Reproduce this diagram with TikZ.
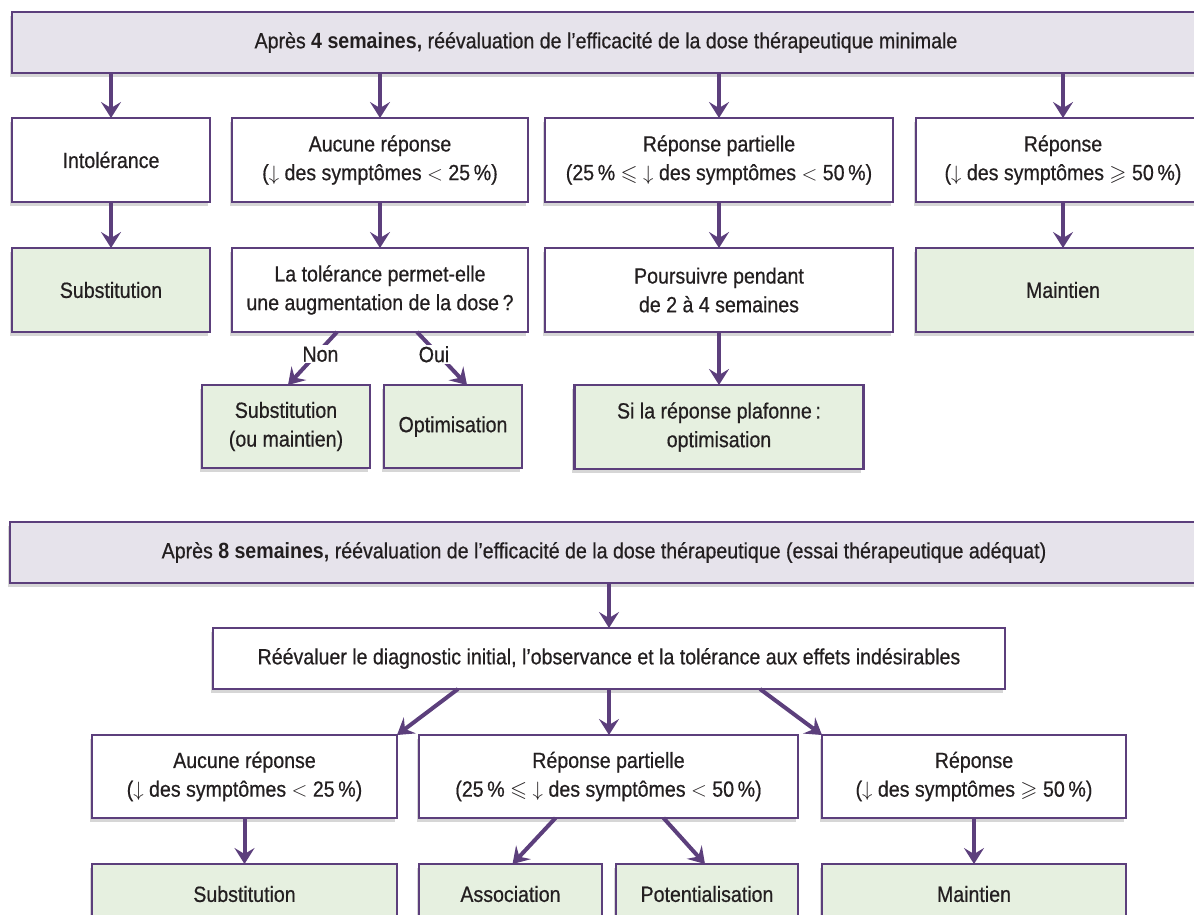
\documentclass[tikz,border=0pt]{standalone}
\usepackage{amsmath}
\usepackage{amssymb}
\usepackage{fontspec}
\setmainfont{Liberation Sans}[FakeStretch=0.89, UprightFeatures={FakeBold=0.6}]
\usepackage{tikz}
\usetikzlibrary{arrows.meta,positioning,calc,shadows}
\definecolor{algoPurple}{HTML}{5C3F7C}
\definecolor{algoHead}{HTML}{E6E3EB}
\definecolor{algoGreen}{HTML}{E6F0E0}
\definecolor{algoInk}{HTML}{231F20}
\newcommand{\algoFont}{\fontsize{22}{28.7}\selectfont}
\tikzset{
  %% algobox: every box of the chart, the fill level comes as argument
  algobox/.style={
    draw=algoPurple, line width=2.4pt, fill=#1, inner sep=0pt, outer sep=0pt,
    align=center, font=\algoFont, text=algoInk,
    drop shadow={shadow xshift=-2.5pt, shadow yshift=-4pt, opacity=0.16, fill=black}},
  algobox/.default=white,
  %% headers (the two reassessment dates)
  algohead/.style={algobox=algoHead, minimum width=1200pt, minimum height=61pt},
  %% decisions: what to do with the treatment
  algoact/.style={algobox=algoGreen},
  algoflow/.style={-{Stealth[length=16pt,width=20pt,inset=6pt]}, draw=algoPurple,
    line width=4pt},
  algolbl/.style={font=\algoFont, fill=white, inner sep=1.5pt, text=algoInk},
}

\begin{document}
\begin{tikzpicture}[x=1pt, y=1pt]
\useasboundingbox (0,0) rectangle (1194,-914);

%% ------------------------------------------------------------------
%% After 4 weeks
%% ------------------------------------------------------------------
\node[algohead, anchor=north west] (banFour) at (12,-12)
  {\hspace*{-6pt}Après \textbf{4 semaines,} réévaluation de l’efficacité de la dose thérapeutique minimale\hspace*{6pt}};

%% --- first answer row --------------------------------------------
\node[algobox, anchor=north west, minimum width=198pt, minimum height=84pt] (intol) at (12,-118)
  {Intolérance};
\node[algobox, right=22pt of intol, minimum width=296pt, minimum height=84pt] (noResp)
  {Aucune réponse\\($\downarrow$ des symptômes $<$ 25\,\%)};
\node[algobox, right=17pt of noResp, minimum width=348pt, minimum height=84pt] (partResp)
  {Réponse partielle\\(25\,\% $\leqslant$ $\downarrow$ des symptômes $<$ 50\,\%)};
\node[algobox, right=23pt of partResp, minimum width=294pt, minimum height=84pt] (resp)
  {Réponse\\($\downarrow$ des symptômes $\geqslant$ 50\,\%)};

%% --- second row ---------------------------------------------------
\node[algoact, below=46pt of intol, minimum width=198pt, minimum height=84pt] (subst)
  {Substitution};
\node[algobox, below=46pt of noResp, minimum width=296pt, minimum height=84pt] (tolQ)
  {La tolérance permet-elle\\une augmentation de la dose\,?};
\node[algobox, below=46pt of partResp, minimum width=348pt, minimum height=84pt] (pursue)
  {Poursuivre pendant\\de 2 à 4 semaines};
\node[algoact, below=46pt of resp, minimum width=294pt, minimum height=84pt] (keep)
  {Maintien};

%% --- third row ----------------------------------------------------
\node[algoact, anchor=north west, minimum width=168pt, minimum height=83pt] (substB) at (202,-385)
  {Substitution\\(ou maintien)};
\node[algoact, right=14pt of substB, minimum width=138pt, minimum height=83pt] (optim)
  {Optimisation};
\node[algoact, below=53pt of pursue, minimum width=289pt, minimum height=84pt] (plateau)
  {Si la réponse plafonne\,:\\optimisation};

\foreach \answer in {intol,noResp,partResp,resp}
  \draw[algoflow] (\answer.north |- banFour.south) -- (\answer.north);
\draw[algoflow] (intol)    -- (subst);
\draw[algoflow] (noResp)   -- (tolQ);
\draw[algoflow] (partResp) -- (pursue);
\draw[algoflow] (resp)     -- (keep);
\draw[algoflow] (pursue)   -- (plateau);
\draw[algoflow] ($(tolQ.south)+(-43,0)$) -- node[algolbl, pos=0.42, xshift=4pt]{Non} ($(substB.north)+(2,0)$);
\draw[algoflow] ($(tolQ.south)+(37,0)$)  -- node[algolbl, pos=0.42, xshift=-4pt]{Oui} ($(optim.north)+(14,0)$);

%% ------------------------------------------------------------------
%% After 8 weeks
%% ------------------------------------------------------------------
\node[algohead, anchor=north west] (banEight) at (10,-522)
  {\hspace*{-6pt}Après \textbf{8 semaines,} réévaluation de l’efficacité de la dose thérapeutique (essai thérapeutique adéquat)\hspace*{6pt}};

\node[algobox, anchor=north, minimum width=792pt, minimum height=61pt] (reassess) at (609,-628)
  {Réévaluer le diagnostic initial, l’observance et la tolérance aux effets indésirables};

%% --- answer row ---------------------------------------------------
\node[algobox, anchor=north west, minimum width=305pt, minimum height=83pt] (noRespB) at (92,-735)
  {Aucune réponse\\($\downarrow$ des symptômes $<$ 25\,\%)};
\node[algobox, right=22pt of noRespB, minimum width=379pt, minimum height=83pt] (partRespB)
  {Réponse partielle\\(25\,\% $\leqslant$ $\downarrow$ des symptômes $<$ 50\,\%)};
\node[algobox, right=24pt of partRespB, minimum width=304pt, minimum height=83pt] (respB)
  {Réponse\\($\downarrow$ des symptômes $\geqslant$ 50\,\%)};

%% --- decisions (cut by the page bottom) ---------------------------
\node[algoact, below=46pt of noRespB, minimum width=305pt, minimum height=60pt] (substC)
  {Substitution};
\node[algoact, below=46pt of partRespB.south west, anchor=north west,
      minimum width=183pt, minimum height=60pt] (assoc)
  {Association};
\node[algoact, right=14pt of assoc, minimum width=182pt, minimum height=60pt] (potent)
  {Potentialisation};
\node[algoact, below=46pt of respB, minimum width=304pt, minimum height=60pt] (keepB)
  {Maintien};

\draw[algoflow] (reassess.north |- banEight.south) -- (reassess.north);
\draw[algoflow] ($(reassess.south)+(-151,0)$) -- (noRespB.north east);
\draw[algoflow] (reassess.south) -- (reassess.south |- partRespB.north);
\draw[algoflow] ($(reassess.south)+(151,0)$) -- (respB.north west);
\draw[algoflow] (noRespB) -- (substC);
\draw[algoflow] ($(partRespB.south)+(-53,0)$) -- ($(assoc.north)+(2,0)$);
\draw[algoflow] ($(partRespB.south)+(55,0)$)  -- ($(potent.north)+(-2,0)$);
\draw[algoflow] (respB) -- (keepB);

\end{tikzpicture}
\end{document}
